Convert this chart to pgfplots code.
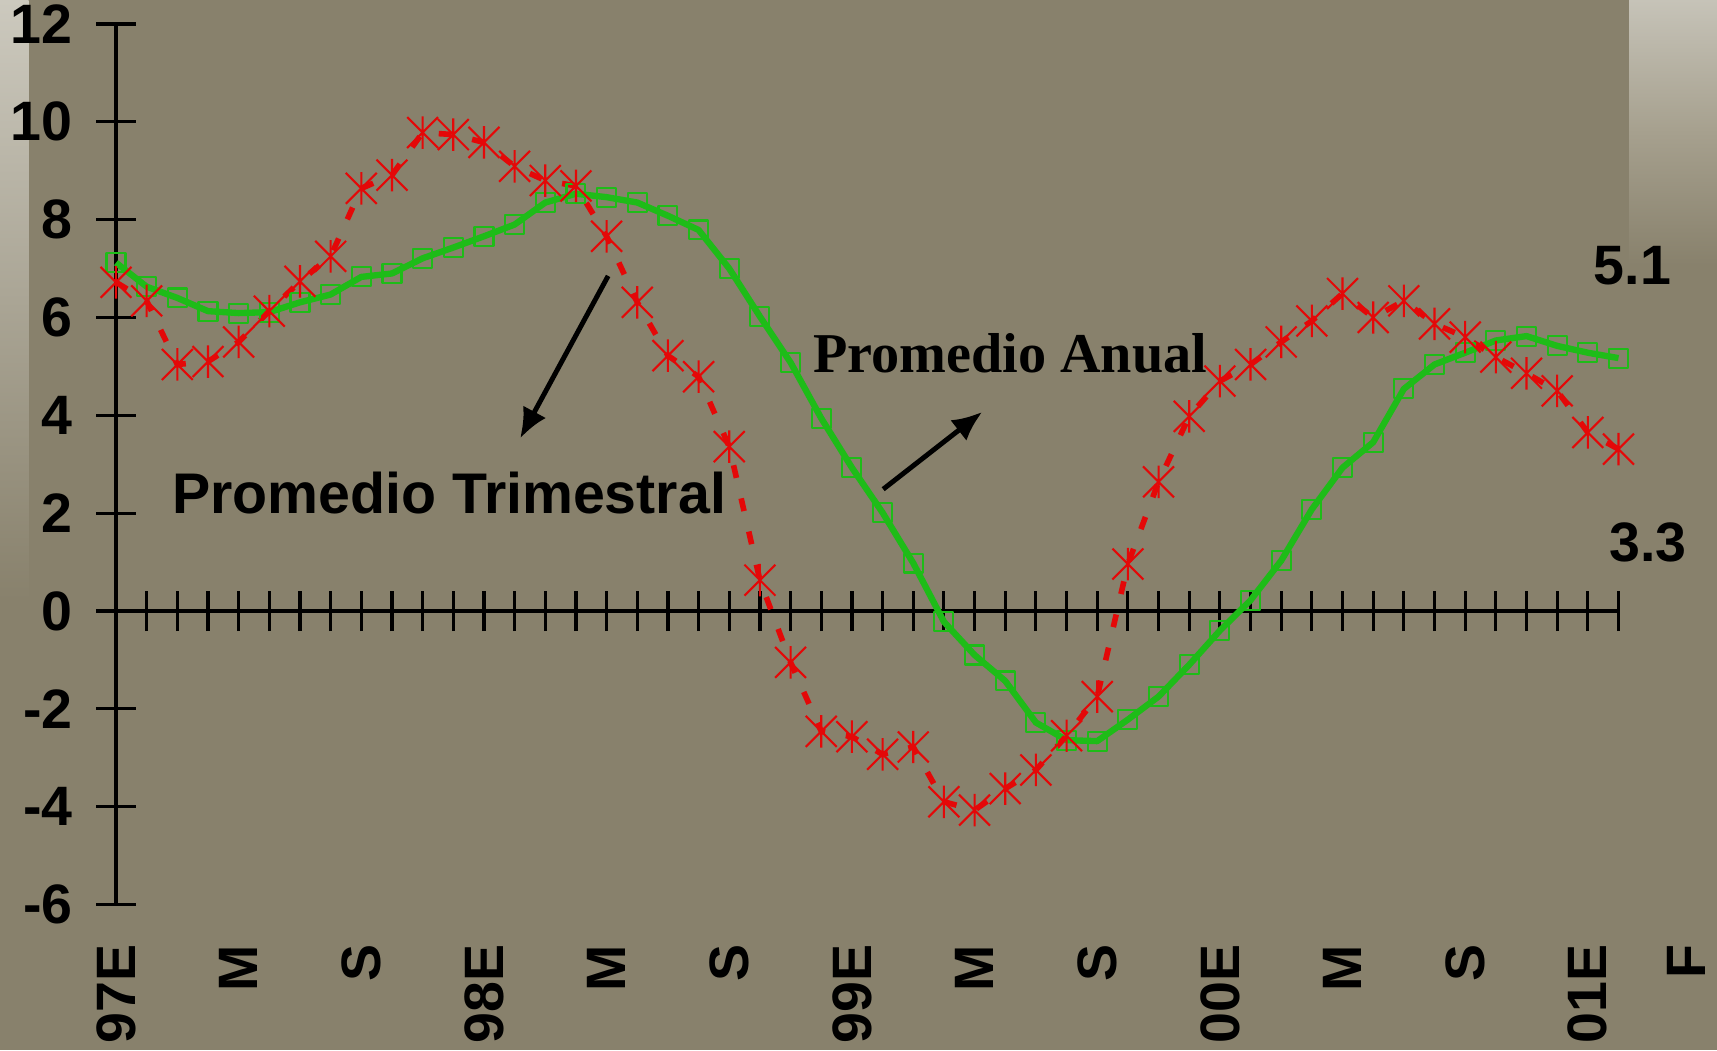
\documentclass[border=0pt]{standalone}
\usepackage{pgfplots}
\pgfplotsset{compat=1.18}
\usepackage{fontspec}
\setmainfont{Liberation Sans}
\newfontfamily\timesfont{Liberation Serif}
\usetikzlibrary{arrows.meta}

\definecolor{bgc}{RGB}{136,129,108}
\definecolor{rojo}{RGB}{228,8,8}
\definecolor{verde}{RGB}{30,188,24}

% asterisk mark: X with a vertical bar
\pgfdeclareplotmark{xstar}{%
  \pgfpathmoveto{\pgfqpoint{-\pgfplotmarksize}{-\pgfplotmarksize}}%
  \pgfpathlineto{\pgfqpoint{\pgfplotmarksize}{\pgfplotmarksize}}%
  \pgfpathmoveto{\pgfqpoint{-\pgfplotmarksize}{\pgfplotmarksize}}%
  \pgfpathlineto{\pgfqpoint{\pgfplotmarksize}{-\pgfplotmarksize}}%
  \pgfpathmoveto{\pgfqpoint{0pt}{-1.05\pgfplotmarksize}}%
  \pgfpathlineto{\pgfqpoint{0pt}{1.05\pgfplotmarksize}}%
  \pgfusepathqstroke}

\newcommand{\lblfont}{\bfseries\fontsize{15.8}{16}\selectfont}
\newcommand{\mes}[2]{\node[font=\lblfont, rotate=90, anchor=east, inner sep=0pt]
    at (axis cs:#1,-6.81) {#2};}

\pgfplotstableread{
x trim anual
0 6.72 7.12
1 6.34 6.63
2 5.04 6.40
3 5.10 6.13
4 5.50 6.09
5 6.13 6.11
6 6.74 6.31
7 7.25 6.47
8 8.64 6.83
9 8.91 6.90
10 9.78 7.21
11 9.74 7.43
12 9.58 7.66
13 9.09 7.90
14 8.80 8.35
15 8.69 8.53
16 7.66 8.46
17 6.31 8.35
18 5.22 8.08
19 4.79 7.79
20 3.36 7.00
21 0.63 6.02
22 -1.05 5.08
23 -2.46 3.94
24 -2.57 2.93
25 -2.93 2.01
26 -2.78 0.98
27 -3.90 -0.22
28 -4.07 -0.90
29 -3.63 -1.43
30 -3.25 -2.28
31 -2.55 -2.64
32 -1.75 -2.66
33 0.96 -2.22
34 2.64 -1.75
35 3.98 -1.10
36 4.70 -0.40
37 5.04 0.22
38 5.50 1.03
39 5.93 2.08
40 6.49 2.93
41 6.00 3.45
42 6.34 4.54
43 5.87 5.04
44 5.60 5.28
45 5.19 5.53
46 4.86 5.62
47 4.50 5.42
48 3.65 5.28
49 3.31 5.17
}\datos

\begin{document}
\begin{tikzpicture}
\path[use as bounding box] (0,0) rectangle (171.7mm,105mm);
% page background with the lighter strips at both sides
\fill[bgc] (0,0) rectangle (171.7mm,105mm);
\shade[top color={rgb,255:red,204;green,201;blue,190}, bottom color=bgc]
  (0,45mm) rectangle (2.85mm,105mm);
\shade[top color={rgb,255:red,198;green,195;blue,184}, bottom color=bgc,
  middle color={rgb,255:red,166;green,160;blue,142}]
  (162.9mm,78.5mm) rectangle (171.7mm,105mm);

\begin{axis}[
    at={(11.6mm,14.55mm)}, anchor=south west,
    scale only axis, width=150.25mm, height=88.05mm,
    xmin=0, xmax=49, ymin=-6, ymax=12,
    axis lines=middle,
    axis line style={-, black, line width=0.9pt},
    hide obscured x ticks=false, hide obscured y ticks=false,
    xtick={1,...,49}, xticklabels={},
    ytick={-6,-4,...,12},
    tick align=center,
    major tick length=4mm,
    tick style={black, line width=0.9pt},
    /pgf/number format/assume math mode=true,
    yticklabel style={font=\lblfont, anchor=east, xshift=-1.1mm},
    clip=false,
  ]
\addplot[verde, line width=1.8pt, line join=round,
  mark=square, mark size=2.7pt,
  mark options={solid, line width=0.6pt, fill=none}]
  table[x=x, y=anual] {\datos};
\addplot[rojo, line width=1.6pt, dash pattern=on 1.3mm off 2.1mm,
  mark=xstar, mark size=4.4pt,
  mark options={solid, line width=0.6pt}]
  table[x=x, y=trim] {\datos};

% month labels
\mes{0}{97E} \mes{4}{M} \mes{8}{S} \mes{12}{98E} \mes{16}{M} \mes{20}{S}
\mes{24}{99E} \mes{28}{M} \mes{32}{S} \mes{36}{00E} \mes{40}{M} \mes{44}{S}
\mes{48}{01E} \mes{51.2}{F}

% notes
\node[font=\lblfont] at (axis cs:49.45,7.05) {5.1};
\node[font=\lblfont] at (axis cs:49.97,1.41) {3.3};
\node[font=\timesfont\bfseries\fontsize{16}{17}\selectfont]
  at (axis cs:29.16,5.27) {Promedio Anual};
\node[font=\bfseries\fontsize{16.3}{17}\selectfont]
  at (axis cs:10.86,2.41) {Promedio Trimestral};
\draw[line width=1.4pt, -{Latex[length=3mm,width=2.6mm]}]
  (axis cs:16.05,6.85) -- (axis cs:13.18,3.53);
\draw[line width=1.4pt, -{Latex[length=3mm,width=2.6mm]}]
  (axis cs:25.02,2.49) -- (axis cs:28.25,4.07);
\end{axis}
\end{tikzpicture}
\end{document}
